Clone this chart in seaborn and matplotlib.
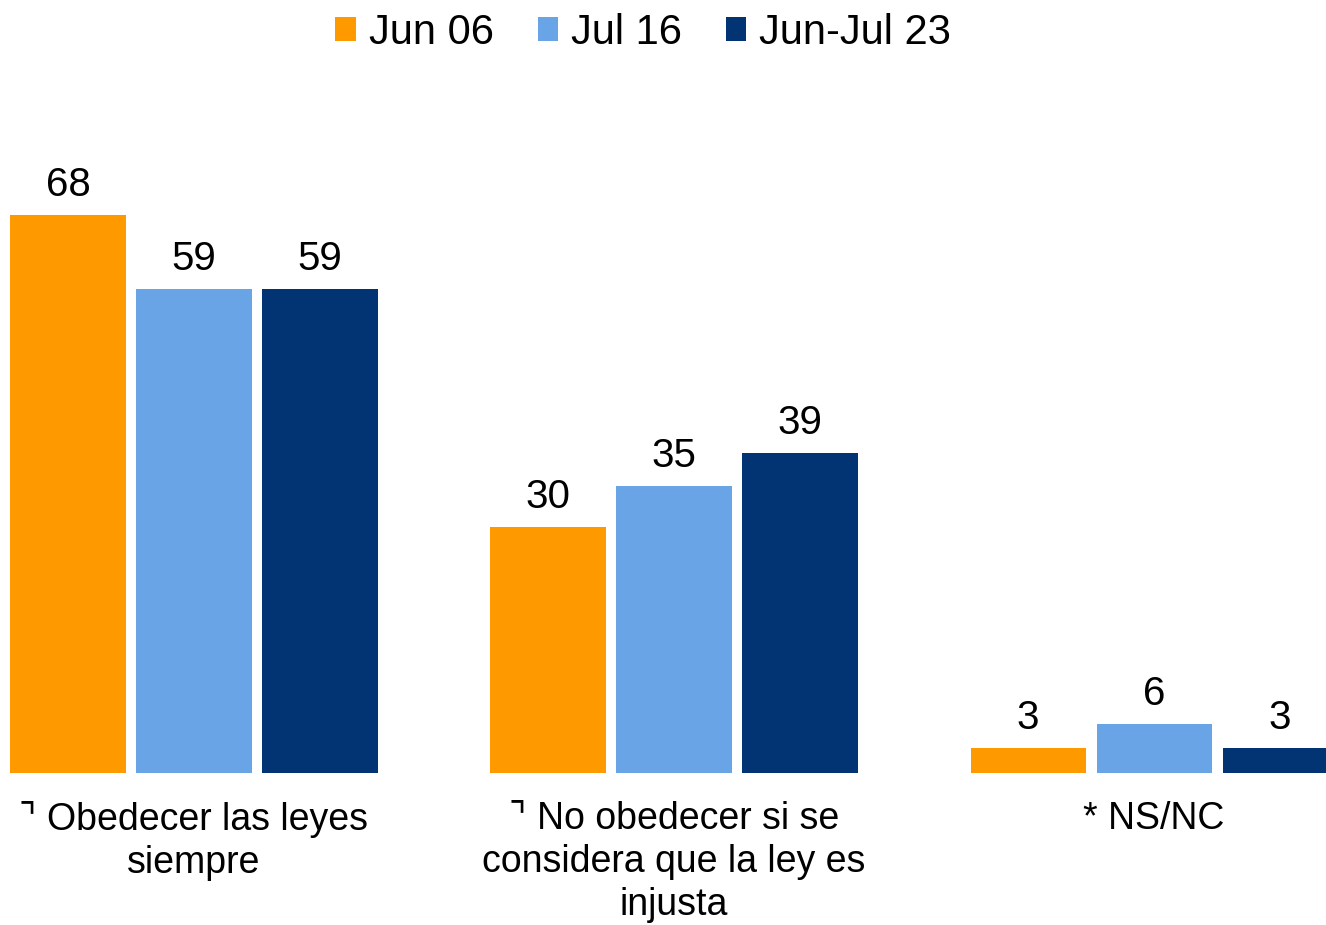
import matplotlib
matplotlib.use("Agg")
import matplotlib.pyplot as plt
import matplotlib.patches as mpatches
import seaborn as sns
import pandas as pd

# ── Data ──────────────────────────────────────────────────────────────────────
categories = ["⌝ Obedecer las leyes\nsiempre",
              "⌝ No obedecer si se\nconsidera que la ley es\ninjusta",
              "* NS/NC"]
series = ["Jun 06", "Jul 16", "Jun-Jul 23"]
jun06 = [68, 30, 3]
jul16 = [59, 35, 6]
junjul23 = [59, 39, 3]

COLORS = ["#FF9900", "#69A5E6", "#023373"]

sns.set_theme(style="white")
plt.rcParams["font.family"] = ["Liberation Sans", "DejaVu Sans"]

df = pd.DataFrame({
    "cat": categories * 3,
    "serie": [s for s in series for _ in categories],
    "val": jun06 + jul16 + junjul23,
})

fig = plt.figure(figsize=(13.26, 9.25), dpi=100)
ax = fig.add_axes([0, 0.1643, 1, 0.71])

sns.barplot(data=df, x="cat", y="val", hue="serie", hue_order=series,
            palette=COLORS, width=0.7875, gap=0.086, saturation=1,
            edgecolor="none", ax=ax, legend=False)

for cont in ax.containers:
    ax.bar_label(cont, fmt="%.0f", padding=8, fontsize=29, color="black")

ax.set_xlim(-0.404, 2.358)
ax.set_ylim(0, 80)
ax.set_xlabel("")
ax.set_ylabel("")
ax.set_yticks([])
ax.tick_params(axis="x", length=0, pad=20, labelsize=27, labelcolor="black")
for lbl in ax.get_xticklabels():
    lbl.set_linespacing(1.25)
sns.despine(ax=ax, left=True, bottom=True)

handles = [mpatches.Patch(facecolor=c, edgecolor="none", label=s)
           for s, c in zip(series, COLORS)]
leg = fig.legend(handles=handles, loc="upper center", bbox_to_anchor=(0.485, 1.027),
                 ncol=3, frameon=False, fontsize=30, handlelength=0.5,
                 handleheight=0.5, handletextpad=0.3, columnspacing=1.05)
for t in leg.get_texts():
    t.set_color("black")

fig.savefig("out.png", dpi=100)
